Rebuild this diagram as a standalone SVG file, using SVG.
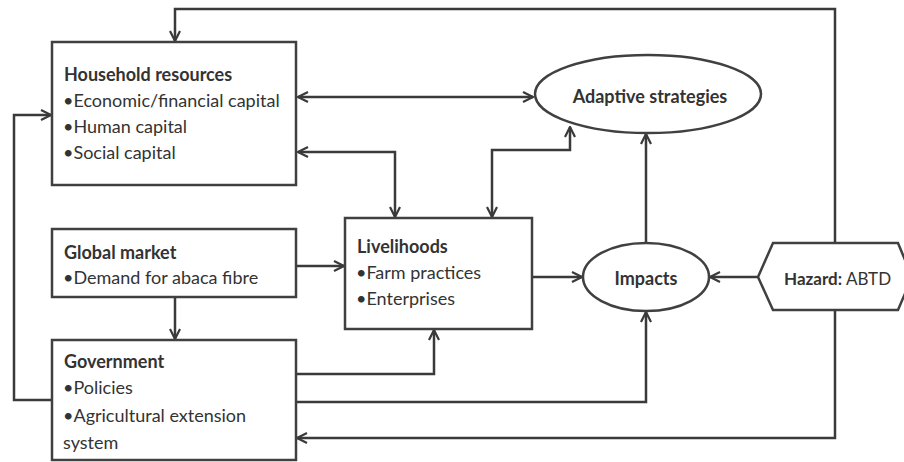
<svg xmlns="http://www.w3.org/2000/svg" width="904" height="462" viewBox="0 0 904 462">
<style>
.box{fill:#fff;stroke:#404040;stroke-width:2.5}
.ln{fill:none;stroke:#3a3a3a;stroke-width:2.5}
text{font-family:Lato,"Open Sans","Liberation Sans",sans-serif;font-size:18px;fill:#333}
.b{font-weight:bold}
</style>
<defs>
<marker id="ah" viewBox="0 0 12 12" refX="11" refY="6" markerWidth="12" markerHeight="12" markerUnits="userSpaceOnUse" orient="auto-start-reverse">
<path d="M1,1 L11,6 L1,11" fill="none" stroke="#3a3a3a" stroke-width="2.2"/>
</marker>
</defs>
<rect width="904" height="462" fill="#fff"/>
<g id="connectors">
<polyline class="ln" points="835,243 835,9 175,9 175,41" marker-end="url(#ah)"/>
<polyline class="ln" points="52,400 14,400 14,115 51,115" marker-end="url(#ah)"/>
<line class="ln" x1="298" y1="97" x2="533" y2="97" marker-start="url(#ah)" marker-end="url(#ah)"/>
<polyline class="ln" points="298,152 395,152 395,217" marker-start="url(#ah)" marker-end="url(#ah)"/>
<polyline class="ln" points="492,217 492,150 570,150 570,127" marker-start="url(#ah)" marker-end="url(#ah)"/>
<line class="ln" x1="296" y1="266" x2="344" y2="266" marker-end="url(#ah)"/>
<line class="ln" x1="175" y1="297" x2="175" y2="339" marker-end="url(#ah)"/>
<polyline class="ln" points="296,374 434,374 434,330" marker-end="url(#ah)"/>
<polyline class="ln" points="296,402 646,402 646,312" marker-end="url(#ah)"/>
<polyline class="ln" points="835,310 835,438 297,438" marker-end="url(#ah)"/>
<line class="ln" x1="532" y1="277" x2="582" y2="277" marker-end="url(#ah)"/>
<line class="ln" x1="646" y1="244" x2="646" y2="134" marker-end="url(#ah)"/>
<line class="ln" x1="758" y1="277" x2="710" y2="277" marker-end="url(#ah)"/>
</g>
<g id="household">
<rect class="box" x="52" y="42" width="244" height="143"/>
<text x="64" y="81" class="b">Household resources</text>
<text x="63" y="107">•Economic/financial capital</text>
<text x="63" y="133">•Human capital</text>
<text x="63" y="159">•Social capital</text>
</g>
<g id="global-market">
<rect class="box" x="52" y="229" width="244" height="68"/>
<text x="64" y="259" class="b">Global market</text>
<text x="63" y="284">•Demand for abaca fibre</text>
</g>
<g id="government">
<rect class="box" x="52" y="340" width="244" height="120"/>
<text x="64" y="368" class="b">Government</text>
<text x="63" y="394">•Policies</text>
<text x="63" y="422">•Agricultural extension</text>
<text x="63" y="449">system</text>
</g>
<g id="livelihoods">
<rect class="box" x="345" y="218" width="187" height="111"/>
<text x="357" y="253" class="b">Livelihoods</text>
<text x="356" y="279">•Farm practices</text>
<text x="356" y="305">•Enterprises</text>
</g>
<g id="adaptive">
<ellipse class="box" cx="648" cy="94" rx="113" ry="39"/>
<text x="650" y="103" class="b" text-anchor="middle">Adaptive strategies</text>
</g>
<g id="impacts">
<ellipse class="box" cx="646" cy="277" rx="63" ry="34"/>
<text x="646" y="285" class="b" text-anchor="middle">Impacts</text>
</g>
<g id="hazard">
<polygon class="box" points="758,277 773,243 898,243 912,277 898,310 773,310"/>
<text x="784" y="285" style="font-size:17px"><tspan class="b">Hazard:</tspan> ABTD</text>
</g>
</svg>
